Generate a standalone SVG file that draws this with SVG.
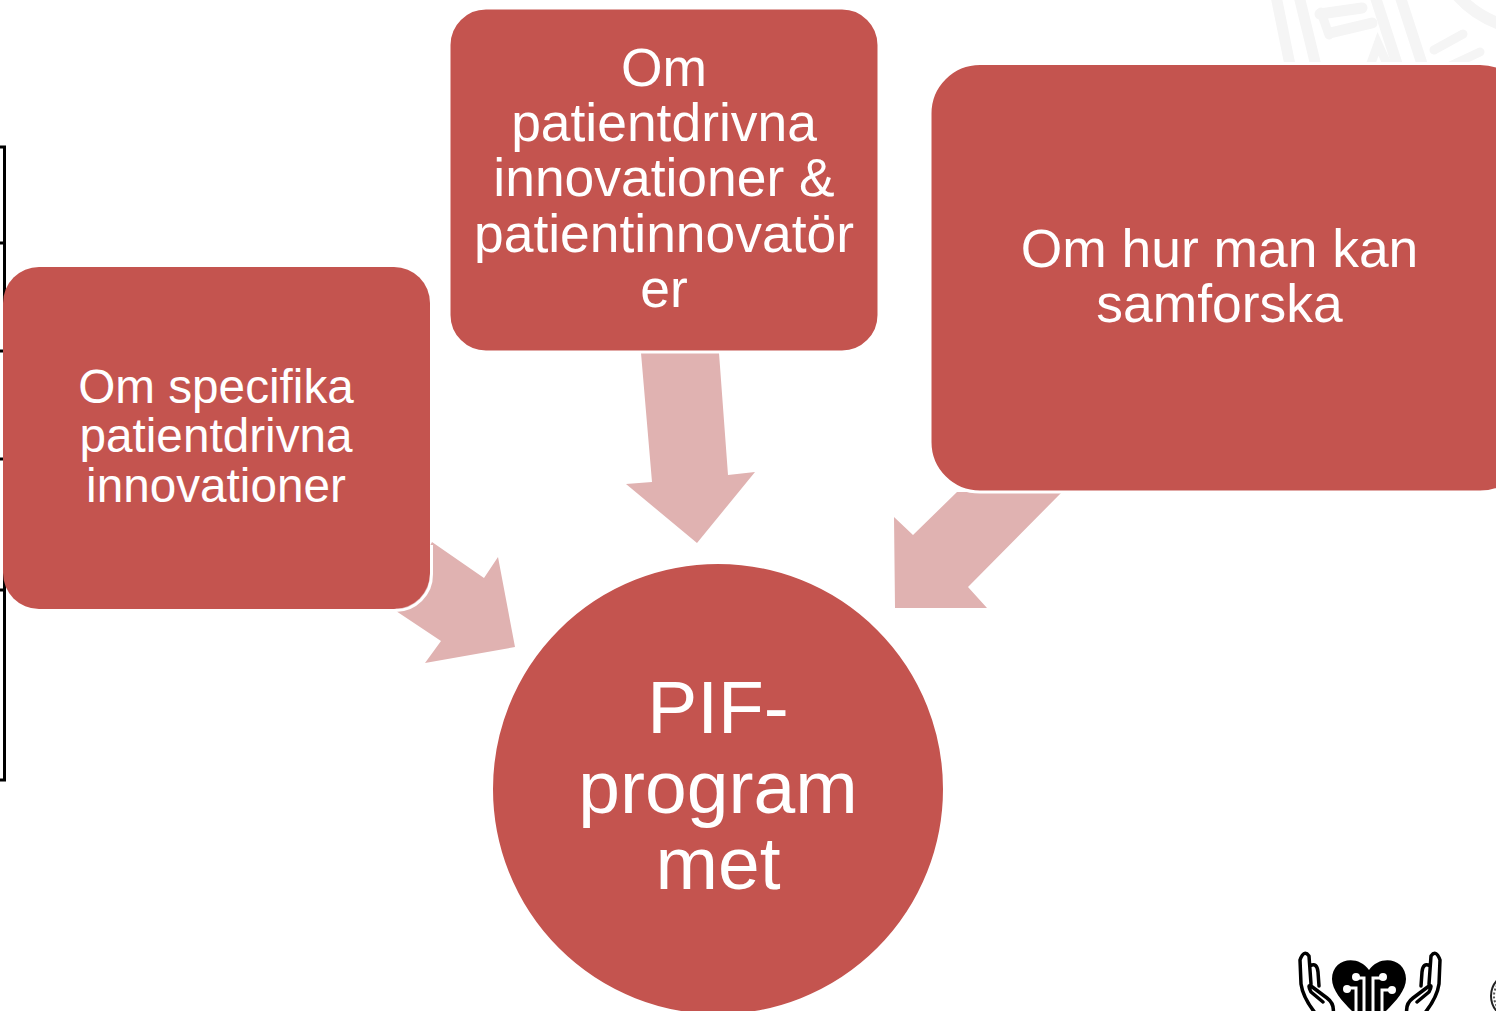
<svg xmlns="http://www.w3.org/2000/svg" width="1496" height="1011" viewBox="0 0 1496 1011">
<style>
.n{fill:#c4544f;stroke:#fff;stroke-width:3}
.f{fill:#c4544f}
.e{fill:none;stroke:#fff;stroke-width:3}
.a{fill:#e0b2b1}
.t{fill:#fff;font-family:"Liberation Sans",Arial,sans-serif;text-anchor:middle}
.s{font-size:47.700px}
.m{font-size:53.400px}
.b{font-size:75px}
.l{fill:none;stroke:#000;stroke-width:3}
.w{fill:none;stroke:#f5f5f5;stroke-linecap:round}
.k{fill:none;stroke:#000;stroke-width:3.500;stroke-linejoin:round;stroke-linecap:round}
</style>
<rect width="1496" height="1011" fill="#fff"/>
<g id="watermark">
<path class="w" stroke-width="11" d="M1276 -4L1291 70M1299 -4L1317 70M1375 -4L1399 70M1400 -4L1424 70"/>
<path class="w" stroke-width="11" d="M1320 14L1362 8M1330 33L1372 23"/>
<path class="w" stroke-width="9" d="M1321 12L1329 35M1370 66L1378 44L1388 66M1434 50L1463 34M1450 66L1480 52"/>
<path class="w" stroke-width="12" d="M1458 -4Q1475 15 1500 24"/>
</g>
<g id="table-edge">
<path class="l" d="M0 147H4.500V780H0M0 243H5M0 351H5M0 459H5M0 590H5"/>
</g>
<g id="connectors">
<polygon class="a" points="432,542 484,578 498,557 515,647 425,663 441,641 396,611"/>
<polygon class="a" points="641,353 719,353 728,475 755,472 697,543 626,484 652,482"/>
<polygon class="a" points="957,492 1062,492 968,587 987,608 895,608 894,517 913,535"/>
</g>
<g id="node-specifika">
<rect class="f" x="3" y="267" width="427" height="342" rx="36"/>
<path class="e" d="M431.500 545V574A36 36 0 0 1 395 610.500"/>
<text class="t s" x="216" y="403">Om specifika</text>
<text class="t s" x="216" y="452">patientdrivna</text>
<text class="t s" x="216" y="502">innovationer</text>
</g>
<g id="node-patientdrivna">
<rect class="n" x="449" y="8" width="430" height="344" rx="37"/>
<text class="t m" x="664" y="86">Om</text>
<text class="t m" x="664" y="141">patientdrivna</text>
<text class="t m" x="664" y="196">innovationer &amp;</text>
<text class="t m" x="664" y="252">patientinnovatör</text>
<text class="t m" x="664" y="307">er</text>
</g>
<g id="node-samforska">
<rect class="n" x="930" y="63.500" width="600" height="428.500" rx="50"/>
<text class="t m" x="1219.500" y="267">Om hur man kan</text>
<text class="t m" x="1219.500" y="322">samforska</text>
</g>
<g id="node-pif">
<circle class="n" cx="718" cy="789" r="226.500"/>
<text class="t b" x="718" y="733">PIF-</text>
<text class="t b" x="718" y="813">program</text>
<text class="t b" x="718" y="889">met</text>
</g>
<g id="logo">
<path class="k" d="M1316 1014Q1303 998 1301 984L1300 960Q1304 949 1309 956L1311 984M1310 966Q1317 962 1318 972L1319 986"/>
<path class="k" d="M1333 1014Q1335 1004 1327 998L1311 986Q1307 984 1311 992L1323 1002"/>
<path class="k" d="M1424 1014Q1437 998 1439 984L1440 960Q1436 949 1431 956L1429 984M1430 966Q1423 962 1422 972L1421 986"/>
<path class="k" d="M1407 1014Q1405 1004 1413 998L1429 986Q1433 984 1429 992L1417 1002"/>
<path d="M1369 970C1358 954 1332 958 1332 979C1332 990 1342 1001 1352 1011H1386C1396 1001 1406 990 1406 979C1406 958 1380 954 1369 970Z" fill="#000"/>
<path d="M1356 1011V988H1347M1364 1011V978H1357M1373 1011V978H1382M1382 1011V990H1392" fill="none" stroke="#fff" stroke-width="3"/>
<circle cx="1347" cy="989" r="4" fill="#fff"/><circle cx="1356" cy="977" r="4" fill="#fff"/><circle cx="1383" cy="977" r="4" fill="#fff"/><circle cx="1392" cy="990" r="4" fill="#fff"/>
<circle cx="1514" cy="996" r="23" fill="none" stroke="#222" stroke-width="2"/>
<circle cx="1514" cy="996" r="20" fill="none" stroke="#555" stroke-width="2" stroke-dasharray="2 2"/>
</g>
</svg>
